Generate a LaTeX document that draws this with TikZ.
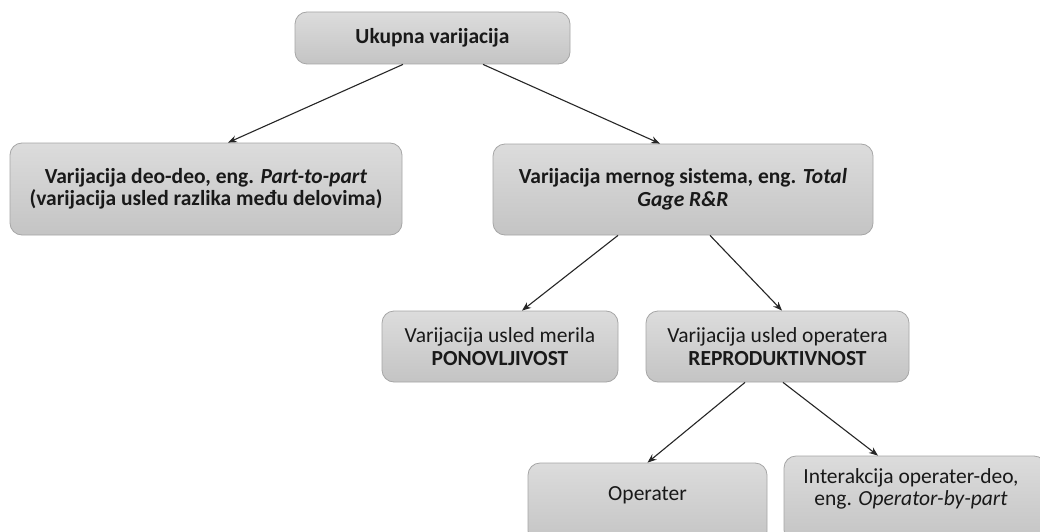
\documentclass[tikz,border=0pt]{standalone}
\usepackage{fontspec}
\setmainfont{Carlito}
\usetikzlibrary{arrows.meta}
\definecolor{boxtop}{HTML}{DCDCDC}
\definecolor{boxbot}{HTML}{C4C4C4}
\definecolor{boxline}{HTML}{A6A6A6}
\begin{document}
\begin{tikzpicture}[x=1pt,y=-1pt,
  box/.style={draw=boxline, line width=0.8pt, rounded corners=12pt,
    top color=boxtop, bottom color=boxbot, align=center,
    font=\fontsize{21.5}{22.5}\selectfont, inner sep=0pt, text=black!90},
  txt/.style={font=\fontsize{21.5}{22.5}\selectfont, text=black!90, align=center},
  conn/.style={-{Stealth[length=9pt,width=7pt]}, line width=1.1pt, black!85}]
\useasboundingbox (0,0) rectangle (1040,532);
\clip (0,0) rectangle (1040,532);
\fill[white] (0,0) rectangle (1040,532);
\node[box, minimum width=275pt, minimum height=52pt, font=\fontsize{21.5}{22.5}\selectfont\bfseries] (top) at (432.5,38) {Ukupna varijacija};
\node[box, minimum width=392pt, minimum height=92pt, font=\fontsize{21.5}{22.5}\selectfont\bfseries] (pp) at (206,189) {Varijacija deo-deo, eng. \textit{Part-to-part}\\(varijacija usled razlika među delovima)};
\node[box, minimum width=380pt, minimum height=91pt, font=\fontsize{21.5}{22.5}\selectfont\bfseries] (ms) at (683,189.5) {Varijacija mernog sistema, eng. \textit{Total}\\\textit{Gage R\&R}};
\node[box, minimum width=236pt, minimum height=71pt] (pon) at (500,346.5) {Varijacija usled merila\\\textbf{PONOVLJIVOST}};
\node[box, minimum width=263pt, minimum height=71pt] (rep) at (777.5,346.5) {Varijacija usled operatera\\\textbf{REPRODUKTIVNOST}};
\node[box, minimum width=239pt, minimum height=80pt] (op) at (647.5,503) {};
\node[txt] (optext) at (647.5,495) {Operater};
\node[box, minimum width=262pt, minimum height=86pt] (int) at (915,499) {};
\node[txt] (inttext) at (911,489) {Interakcija operater-deo,\\eng. \textit{Operator-by-part}};
\draw[conn] ([xshift=-29.5pt]top.south) -- ([xshift=22pt]pp.north);
\draw[conn] ([xshift=50.5pt]top.south) -- ([xshift=-23pt]ms.north);
\draw[conn] ([xshift=-65pt]ms.south) -- ([xshift=22pt]pon.north);
\draw[conn] ([xshift=27pt]ms.south) -- ([xshift=4.5pt]rep.north);
\draw[conn] ([xshift=-32.5pt]rep.south) -- ([xshift=0pt]op.north);
\draw[conn] ([xshift=5.5pt]rep.south) -- ([xshift=-37pt]int.north);
\end{tikzpicture}
\end{document}
